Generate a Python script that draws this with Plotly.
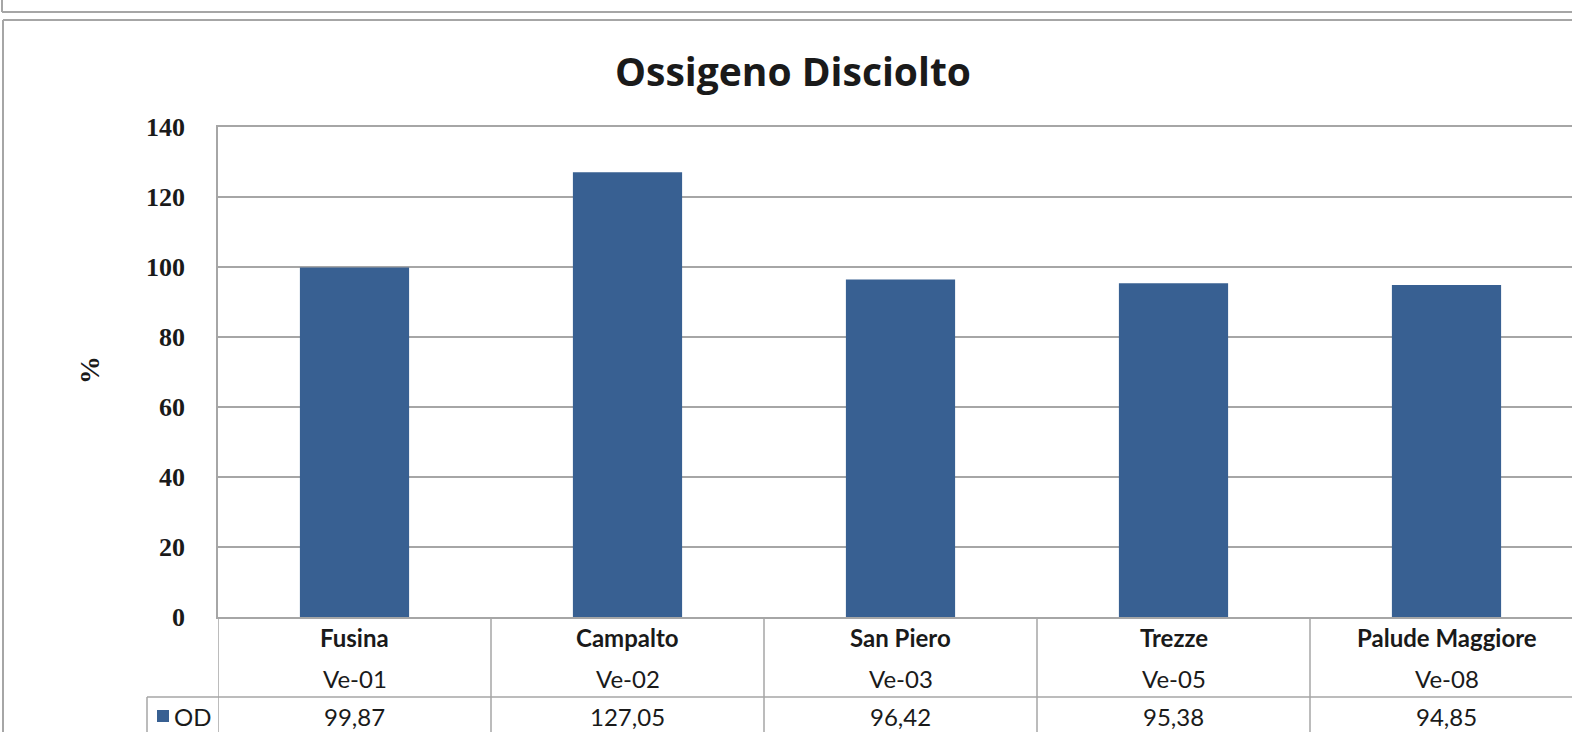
"""Ossigeno Disciolto - Excel-style bar chart with data table."""

import plotly.graph_objects as go

stations = ["Fusina", "Campalto", "San Piero", "Trezze", "Palude Maggiore"]
codes = ["Ve-01", "Ve-02", "Ve-03", "Ve-05", "Ve-08"]
od_values = [99.87, 127.05, 96.42, 95.38, 94.85]
series_name = "OD"

BAR_COLOR = "#386092"
LINE_COLOR = "#a6a6a6"
TEXT_COLOR = "#1a1a1a"
TEXT_FONT = "Lato"
TICK_FONT = "Liberation Serif"

W, H = 1572, 732
L, R, T, B = 218, 0, 127, 115


def px_x(px):
    return (px - L) / (W - L - R)


def px_y(py):
    return (H - B - py) / (H - T - B)


x_idx = list(range(len(stations)))

fig = go.Figure()
fig.add_trace(
    go.Bar(
        x=x_idx,
        y=od_values,
        name=series_name,
        width=0.4,
        marker_color=BAR_COLOR,
        marker_line_width=0,
        showlegend=False,
        hoverinfo="skip",
    )
)

cell_font = dict(family=TEXT_FONT, size=24, color=TEXT_COLOR)
annotations = []
for i, (st, code, val) in enumerate(zip(stations, codes, od_values)):
    for text, py in [(f"<b>{st}</b>", 637), (code, 678), (f"{val:.2f}".replace(".", ","), 716)]:
        annotations.append(dict(x=i, xref="x", y=px_y(py), yref="paper", text=text, xanchor="center",
                                yanchor="middle", showarrow=False, font=cell_font))

# legend key cell of the data table
annotations.append(dict(x=px_x(172), xref="paper", y=px_y(716), yref="paper", text=series_name,
                        xanchor="left", yanchor="middle", showarrow=False, font=cell_font))
annotations.append(dict(x=px_x(89), xref="paper", y=px_y(370), yref="paper", text="<b>%</b>", textangle=-90,
                        xanchor="center", yanchor="middle", showarrow=False,
                        font=dict(family=TICK_FONT, size=28, color=TEXT_COLOR)))

line = dict(color=LINE_COLOR, width=1.5)
frame = dict(color=LINE_COLOR, width=2)
shapes = [
    # outer frames
    dict(type="line", xref="paper", yref="paper", x0=px_x(2), x1=px_x(W + 5), y0=px_y(12), y1=px_y(12), line=frame),
    dict(type="line", xref="paper", yref="paper", x0=px_x(2), x1=px_x(2), y0=px_y(-5), y1=px_y(12), line=frame),
    dict(type="line", xref="paper", yref="paper", x0=px_x(3), x1=px_x(W + 5), y0=px_y(20), y1=px_y(20), line=frame),
    dict(type="line", xref="paper", yref="paper", x0=px_x(3), x1=px_x(3), y0=px_y(20), y1=px_y(H + 5), line=frame),
    # data table rows
    dict(type="line", xref="paper", yref="paper", x0=px_x(147), x1=px_x(W + 5), y0=px_y(697), y1=px_y(697), line=line),
    dict(type="line", xref="paper", yref="paper", x0=px_x(147), x1=px_x(147), y0=px_y(697), y1=px_y(H + 5), line=line),
    dict(type="rect", xref="paper", yref="paper", x0=px_x(157), x1=px_x(169), y0=px_y(710), y1=px_y(722),
         fillcolor=BAR_COLOR, line=dict(width=0)),
]
for b in [i - 0.5 for i in x_idx]:
    shapes.append(dict(type="line", xref="x", yref="paper", x0=b, x1=b, y0=0, y1=px_y(H + 5), line=line))

fig.update_layout(
    width=W,
    height=H,
    margin=dict(l=L, r=R, t=T, b=B),
    paper_bgcolor="white",
    plot_bgcolor="white",
    title=dict(text="<b>Ossigeno Disciolto</b>", x=px_x(793), xref="paper", xanchor="center",
               y=1 - 72 / H, yanchor="middle",
               font=dict(family="Open Sans", size=39, color=TEXT_COLOR)),
    xaxis=dict(range=[-0.5, -0.5 + (W - L) / 273], showticklabels=False, showgrid=False, zeroline=False,
               showline=True, linecolor=LINE_COLOR, linewidth=1.5, mirror=True, fixedrange=True),
    yaxis=dict(range=[0, 140], dtick=20, showgrid=True, gridcolor=LINE_COLOR, gridwidth=1.5, zeroline=False,
               showline=True, linecolor=LINE_COLOR, linewidth=1.5, ticklabelstandoff=26, fixedrange=True,
               tickfont=dict(family=TICK_FONT, size=26, color=TEXT_COLOR, weight="bold")),
    annotations=annotations,
    shapes=shapes,
    bargap=0.6,
)

# the page's default 8px body margin would shift the figure
fig.write_html("out.html", config={"displayModeBar": False},
               post_script="document.body.style.margin = '0';")
